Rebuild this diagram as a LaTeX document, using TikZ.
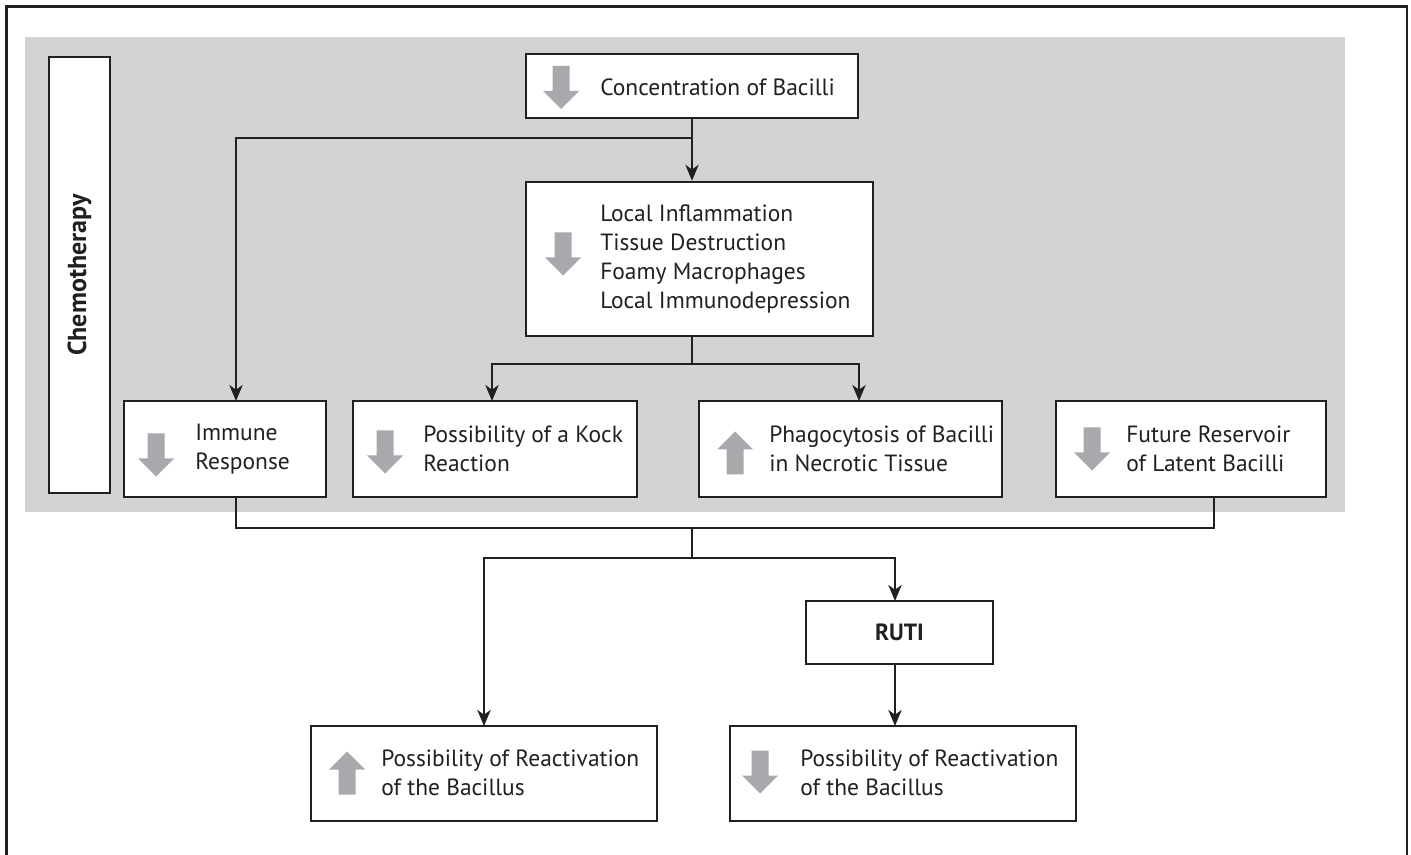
\documentclass[tikz,border=0pt]{standalone}
\usepackage{fontspec}
\setmainfont{PT Sans}
\usetikzlibrary{arrows.meta,fit}
\definecolor{panel}{HTML}{D1D3D4}
\definecolor{agray}{HTML}{A7A9AC}
\definecolor{ink}{HTML}{231F20}
\tikzset{
 box/.style={draw=ink, line width=1.8pt, fill=white, inner sep=0pt},
 lbl/.style={anchor=west, align=left, inner sep=0pt, text=ink, font=\fontsize{17.6}{21.75}\selectfont},
 blbl/.style={inner sep=0pt, text=ink, font=\fontsize{17.6}{21.75}\selectfont\bfseries},
 conn/.style={draw=ink, line width=1.5pt},
 arr/.style={conn, -{Stealth[length=12pt,width=10pt,inset=3.5pt]}},
 darr/.pic={\fill[agray] (-8.5,-21.5) -- (8.5,-21.5) -- (8.5,3.5) -- (18,3.5) -- (0,21.5) -- (-18,3.5) -- (-8.5,3.5) -- cycle;},
 uarr/.pic={\fill[agray] (-8.5,21.5) -- (8.5,21.5) -- (8.5,-3.5) -- (18,-3.5) -- (0,-21.5) -- (-18,-3.5) -- (-8.5,-3.5) -- cycle;},
}
\begin{document}
\begin{tikzpicture}[x=0.75pt,y=-0.75pt]
\useasboundingbox (0,0) rectangle (1411,855);
\draw[ink, line width=1.6pt] (6.5,855) -- (6.5,6.5) -- (1407,6.5) -- (1407,855);
\fill[panel] (25,37) rectangle (1345,512);

% boxes
\node[box, fit={(49,57) (110,493)}] (chemo) {};
\node[blbl, rotate=90, font=\fontsize{19.5}{22}\selectfont\bfseries] (chemolbl) at (chemo.center) {Chemotherapy};

\node[box, fit={(526,54) (858,118)}] (conc) {};
\node[box, fit={(526,182) (873,336)}] (local) {};
\node[box, fit={(124,401) (326,497)}] (immune) {};
\node[box, fit={(353,401) (637,497)}] (kock) {};
\node[box, fit={(699,401) (1002,497)}] (phago) {};
\node[box, fit={(1056,401) (1326,497)}] (future) {};
\node[box, fit={(806,601) (993,664)}] (ruti) {};
\node[box, fit={(311,726) (657,821)}] (bl) {};
\node[box, fit={(730,726) (1076,821)}] (br) {};

% labels
\node[lbl] (conclbl) at (600,87) {Concentration of Bacilli};
\node[lbl] (locallbl) at (600,259) {Local Inflammation\\Tissue Destruction\\Foamy Macrophages\\Local Immunodepression};
\node[lbl] (immunelbl) at (195,449) {Immune\\Response};
\node[lbl] (kocklbl) at (423,449) {Possibility of a Kock\\Reaction};
\node[lbl] (phagolbl) at (769,449) {Phagocytosis of Bacilli\\in Necrotic Tissue};
\node[lbl] (futurelbl) at (1126,449) {Future Reservoir\\of Latent Bacilli};
\node[blbl] (rutilbl) at (ruti.center) {RUTI};
\node[lbl] (bllbl) at (381,773) {Possibility of Reactivation\\of the Bacillus};
\node[lbl] (brlbl) at (800,773) {Possibility of Reactivation\\of the Bacillus};

% gray arrows
\pic at (561,87.5) {darr};
\pic at (563,254) {darr};
\pic at (156,455) {darr};
\pic at (385,452) {darr};
\pic at (735,453) {uarr};
\pic at (1092,449) {darr};
\pic at (347,773) {uarr};
\pic at (760,772) {darr};

% connectors
\coordinate (j1) at (692,138);
\coordinate (immin) at (236,401);
\draw[arr] (conc.south -| j1) -- (local.north -| j1);
\draw[arr] (j1) -| (immin);

\coordinate (j2) at (692,364);
\coordinate (kin) at (492,401);
\coordinate (pin) at (859,401);
\draw[conn] (local.south -| j2) -- (j2);
\draw[arr] (j2) -| (kin);
\draw[arr] (j2) -| (pin);

\coordinate (iout) at (236,497);
\coordinate (fout) at (1214,497);
\coordinate (j3) at (692,528);
\coordinate (j4) at (692,558);
\draw[conn] (iout) |- (j3) -| (fout);
\draw[conn] (j3) -- (j4);
\coordinate (blin) at (484,726);
\coordinate (rin) at (895,601);
\coordinate (brin) at (895,726);
\draw[arr] (j4) -| (blin);
\draw[arr] (j4) -| (rin);
\draw[arr] (ruti.south -| rin) -- (brin);
\end{tikzpicture}
\end{document}
